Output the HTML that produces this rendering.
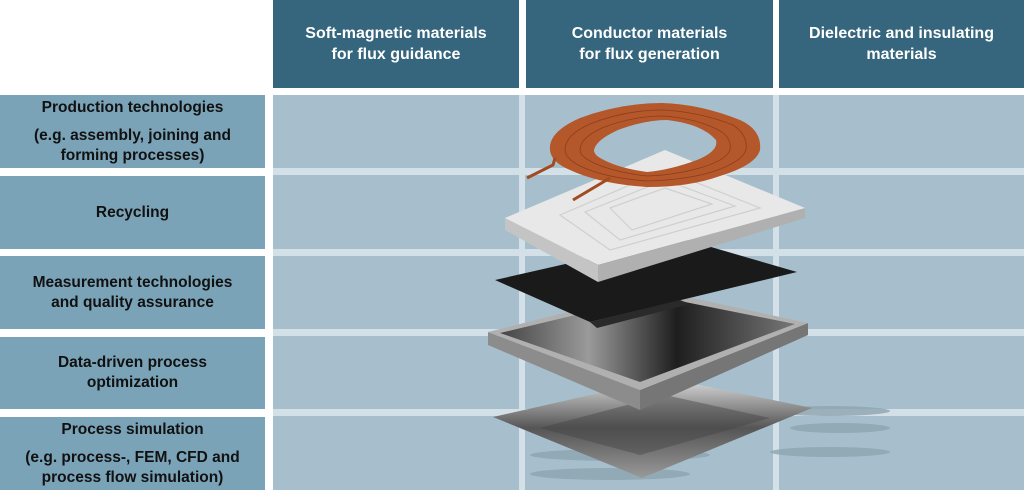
<!DOCTYPE html>
<html><head><style>
body{margin:0;width:1024px;height:501px;background:#fff;position:relative;overflow:hidden;font-family:"Liberation Sans",Arial,sans-serif}
.h{position:absolute;top:0;height:88px;background:#35667e;color:#fff;font-weight:bold;font-size:16px;display:flex;align-items:center;justify-content:center;text-align:center;line-height:21px}
.l{position:absolute;left:0;width:265px;background:#7aa3b8;color:#111;font-weight:bold;font-size:15.5px;display:flex;flex-direction:column;align-items:center;justify-content:center;text-align:center;line-height:20px}
</style></head><body>
<div class="h" style="left:273px;width:246px">Soft-magnetic materials<br>for flux guidance</div>
<div class="h" style="left:526px;width:247px">Conductor materials<br>for flux generation</div>
<div class="h" style="left:779px;width:245px">Dielectric and insulating<br>materials</div>
<div class="l" style="top:95px;height:73px"><div>Production technologies</div><div style="margin-top:8px">(e.g. assembly, joining and<br>forming processes)</div></div>
<div class="l" style="top:176px;height:73px">Recycling</div>
<div class="l" style="top:256px;height:73px">Measurement technologies<br>and quality assurance</div>
<div class="l" style="top:337px;height:72px">Data-driven process<br>optimization</div>
<div class="l" style="top:417px;height:73px"><div>Process simulation</div><div style="margin-top:8px">(e.g. process-, FEM, CFD and<br>process flow simulation)</div></div>
<svg style="position:absolute;left:0;top:0" width="1024" height="501">
<defs>
<linearGradient id="tg" x1="0" y1="0" x2="1" y2="0"><stop offset="0" stop-color="#444"/><stop offset=".3" stop-color="#9a9a9a"/><stop offset=".6" stop-color="#1e1e1e"/><stop offset="1" stop-color="#777"/></linearGradient>
<linearGradient id="bp" x1="0" y1="0" x2="0" y2="1"><stop offset="0" stop-color="#ddd"/><stop offset=".5" stop-color="#555"/><stop offset="1" stop-color="#999"/></linearGradient>
</defs>
<rect x="273" y="95" width="751" height="395" fill="#a7bfcc"/>
<g fill="#d3e0e7">
<rect x="273" y="168" width="751" height="7"/><rect x="273" y="249" width="751" height="7"/><rect x="273" y="329" width="751" height="7"/><rect x="273" y="409" width="751" height="7"/>
<rect x="519" y="95" width="6" height="395"/><rect x="773" y="95" width="6" height="395"/>
</g>
<g fill="#8ea5b1" opacity=".8">
<ellipse cx="830" cy="411" rx="60" ry="5"/><ellipse cx="840" cy="428" rx="50" ry="5"/><ellipse cx="830" cy="452" rx="60" ry="5"/>
<ellipse cx="620" cy="455" rx="90" ry="6"/><ellipse cx="610" cy="474" rx="80" ry="6"/>
</g>
<polygon points="493,417 665,378 812,408 642,478" fill="url(#bp)"/>
<polygon points="540,428 665,395 770,418 640,455" fill="#444" opacity=".45"/>
<polygon points="488,332 640,390 640,410 488,345" fill="#8c8c8c"/>
<polygon points="640,390 808,323 808,335 640,410" fill="#767676"/>
<polygon points="488,332 655,290 808,323 640,390" fill="#b0b0b0"/>
<polygon points="500,333 655,296 795,324 640,382" fill="url(#tg)"/>
<polygon points="495,280 680,238 797,272 590,322" fill="#1a1a1a"/>
<polygon points="590,322 680,300 690,304 597,328" fill="#2a2a2a"/>
<polygon points="505,218 598,265 598,282 505,230" fill="#c4c4c4"/>
<polygon points="598,265 805,208 805,218 598,282" fill="#b0b0b0"/>
<polygon points="505,218 665,150 805,208 598,265" fill="#e8e8e8"/>
<g fill="none" stroke="#cfcfcf" stroke-width="1.2">
<polygon points="560,215 665,170 760,208 610,250"/>
<polygon points="585,212 665,180 735,206 620,240"/>
<polygon points="610,208 665,188 712,204 632,230"/>
</g>
<path fill-rule="evenodd" fill="#b4572a" d="M550,150 Q548,132 580,118 Q620,103 662,103 Q700,104 740,120 Q762,130 760,150 Q756,165 720,176 Q690,187 647,187 Q600,184 570,170 Q551,162 550,150 Z M594,150 Q596,140 618,130 Q645,120 667,120 Q702,124 716,140 Q719,151 697,160 Q670,170 647,172 Q618,168 602,159 Q594,155 594,150 Z"/>
<g fill="none" stroke="#7a3416" stroke-width=".8" opacity=".7">
<path d="M565,150 Q565,135 590,124 Q625,110 663,110 Q700,112 733,125 Q748,135 746,150 Q742,162 712,172 Q685,180 647,181 Q605,178 580,166 Q565,158 565,150 Z"/>
<path d="M580,150 Q580,138 602,128 Q632,116 664,116 Q700,119 722,132 Q732,140 730,150 Q726,160 703,167 Q677,175 647,176 Q612,172 592,162 Q580,156 580,150 Z"/>
</g>
<path d="M527,178 L553,165 L555,158" fill="none" stroke="#a04b22" stroke-width="3"/>
<path d="M573,200 L610,178" fill="none" stroke="#a04b22" stroke-width="3"/>
</svg>
</body></html>
